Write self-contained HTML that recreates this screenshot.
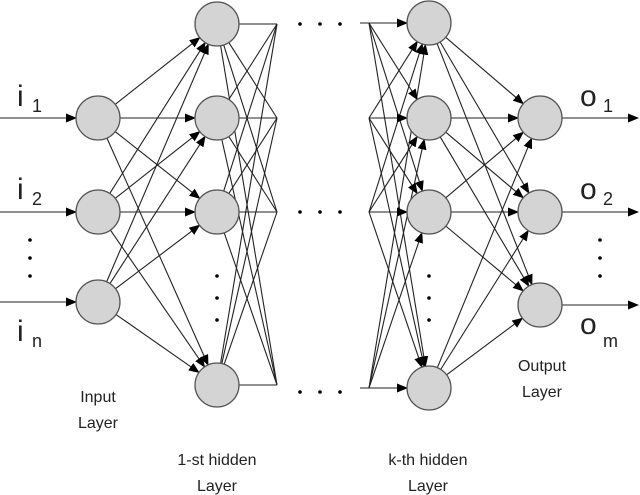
<!DOCTYPE html>
<html><head><meta charset="utf-8"><style>
html,body{margin:0;padding:0;background:#fff;width:640px;height:495px;overflow:hidden}
svg{display:block}
text{font-family:"Liberation Sans",sans-serif;fill:#222}
</style></head><body>
<svg id="s" width="640" height="495" viewBox="0 0 640 495">
<defs><marker id="a" markerWidth="11" markerHeight="9" refX="10" refY="4.5" orient="auto" markerUnits="userSpaceOnUse"><path d="M0,0 L11,4.5 L0,9 z" fill="#000"/></marker></defs>
<g id="L" stroke="#222" stroke-width="1.1" fill="none"></g>
<g id="N" fill="#d4d4d4" stroke="#555" stroke-width="1.3"></g>
<g font-size="30"><text x="17" y="106">i</text><text x="17" y="199">i</text><text x="17" y="341">i</text>
<text x="580" y="106">o</text><text x="580" y="199">o</text><text x="580" y="334">o</text></g>
<g font-size="18"><text x="32" y="112">1</text><text x="32" y="205">2</text><text x="32" y="347">n</text>
<text x="603" y="112">1</text><text x="603" y="205">2</text><text x="603" y="347">m</text></g>
<g font-size="16" text-anchor="middle">
<text x="98" y="402">Input</text><text x="98" y="428">Layer</text>
<text x="217" y="465">1-st hidden</text><text x="217" y="491">Layer</text>
<text x="428" y="465">k-th hidden</text><text x="428" y="491">Layer</text>
<text x="542" y="371">Output</text><text x="542" y="397">Layer</text></g>
<g id="D" fill="#000"></g>
</svg>
<script>
var ns="http://www.w3.org/2000/svg";
function el(p,t,a){var e=document.createElementNS(ns,t);for(var k in a)e.setAttribute(k,a[k]);document.getElementById(p).appendChild(e);return e;}
var R=22;
var inp=[118,212,302].map(y=>[98,y]);
var h1=[24,118,212,385].map(y=>[217,y]);
var hk=[23,118,212,388].map(y=>[429,y]);
var out=[118,212,305].map(y=>[540,y]);
function conn(A,B,arrow){A.forEach(a=>B.forEach(b=>{var dx=b[0]-a[0],dy=b[1]-a[1],d=Math.hypot(dx,dy);
var o={x1:a[0]+dx/d*R,y1:a[1]+dy/d*R,x2:b[0]-dx/d*R,y2:b[1]-dy/d*R};if(arrow)o['marker-end']='url(#a)';el('L','line',o);}));}
conn(inp,h1,true);conn(hk,out,true);
h1.forEach(a=>h1.forEach(b=>{if(a==b)return;var dx=60,dy=b[1]-a[1],d=Math.hypot(dx,dy);el('L','line',{x1:a[0]+dx/d*R,y1:a[1]+dy/d*R,x2:277,y2:b[1]});}));
h1.forEach(a=>el('L','line',{x1:239,y1:a[1],x2:277,y2:a[1]}));
hk.forEach(b=>hk.forEach(a=>{if(a==b)return;var dx=60,dy=b[1]-a[1],d=Math.hypot(dx,dy);el('L','line',{x1:369,y1:a[1],x2:b[0]-dx/d*R,y2:b[1]-dy/d*R,'marker-end':'url(#a)'});}));
hk.forEach(b=>el('L','line',{x1:(b[1]==23||b[1]==388)?360:369,y1:b[1],x2:407,y2:b[1],'marker-end':'url(#a)'}));
inp.forEach(a=>el('L','line',{x1:0,y1:a[1],x2:76,y2:a[1],'marker-end':'url(#a)'}));
out.forEach(a=>el('L','line',{x1:562,y1:a[1],x2:638,y2:a[1],'marker-end':'url(#a)'}));
[inp,h1,hk,out].forEach(L=>L.forEach(p=>el('N','circle',{cx:p[0],cy:p[1],r:R})));
[24,212,392].forEach(y=>[300,320,340].forEach(x=>el('D','circle',{cx:x,cy:y,r:1.8})));
[240,258,276].forEach(y=>{el('D','circle',{cx:30,cy:y,r:1.8});el('D','circle',{cx:600,cy:y,r:1.8});});
[276,298,320].forEach(y=>{el('D','circle',{cx:217,cy:y,r:1.8});el('D','circle',{cx:429,cy:y,r:1.8});});
</script>
</body></html>
